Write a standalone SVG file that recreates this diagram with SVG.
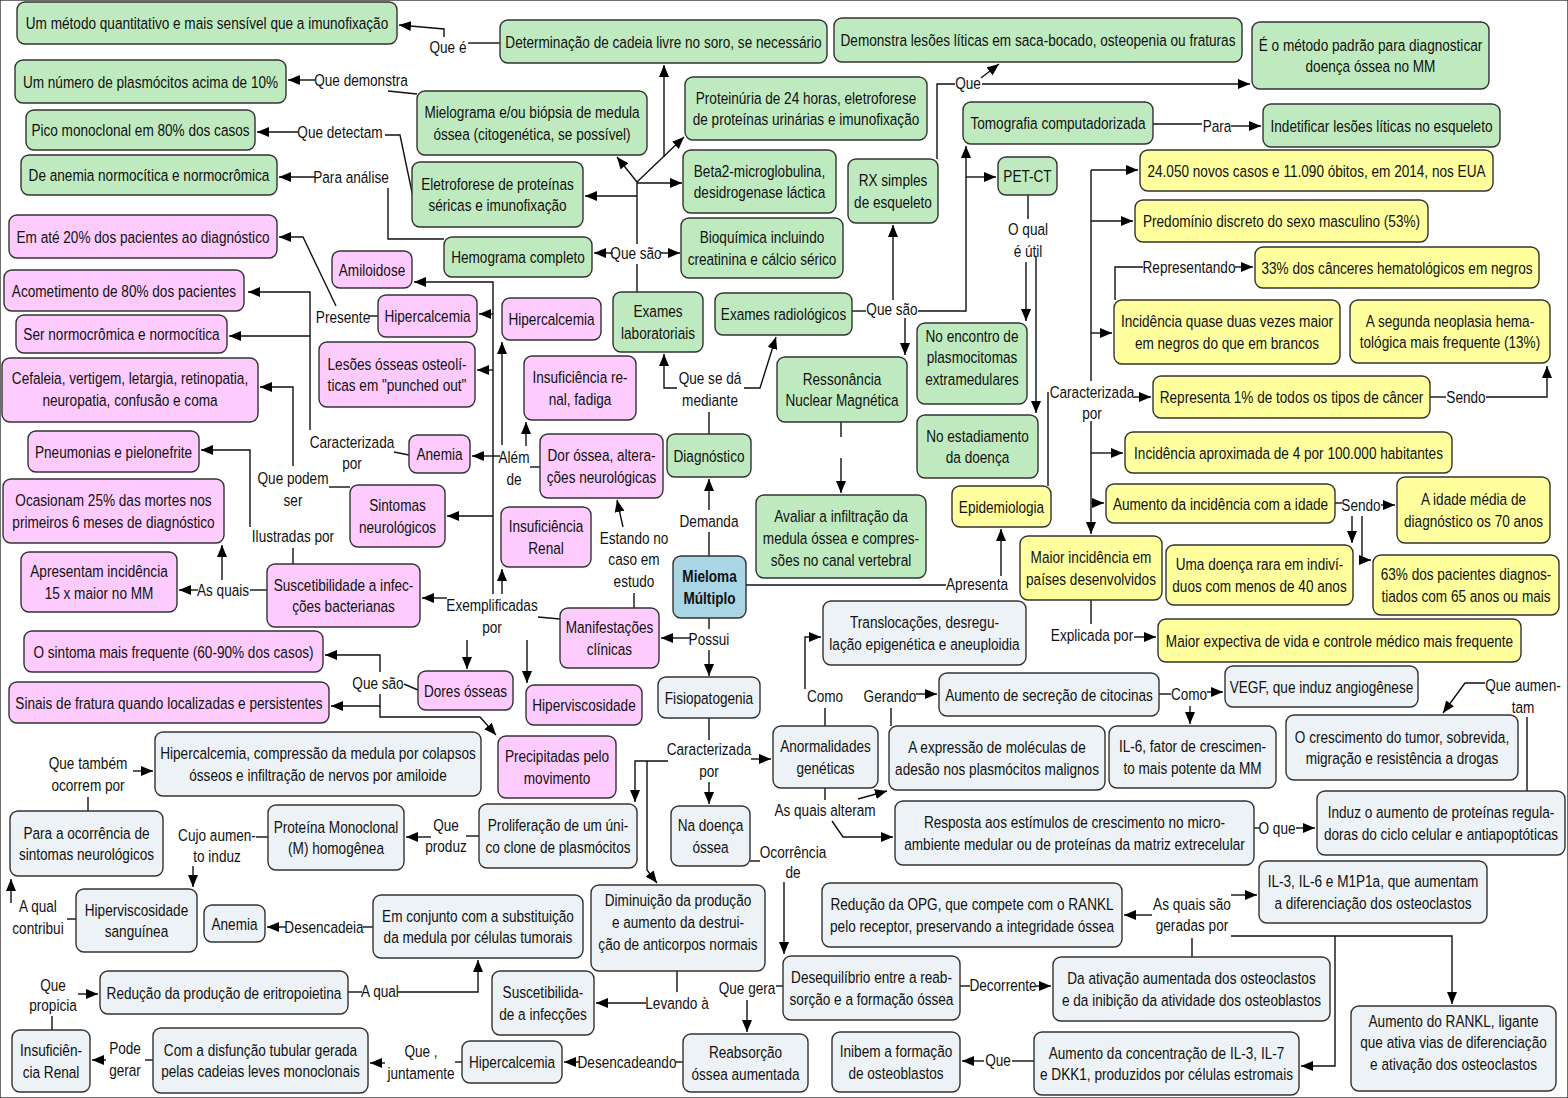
<svg xmlns="http://www.w3.org/2000/svg" width="1568" height="1098" viewBox="0 0 1568 1098">
<defs>
<style>
rect{stroke:#333;stroke-width:1.4}
.g rect{fill:#bfeabf}
.p rect{fill:#fdcbfd}
.y rect{fill:#ffff9e}
.b rect{fill:#ecf2f5}
.m rect{fill:#a9d5e5}
text{font-family:"Liberation Sans",Arial,sans-serif;font-size:17px;text-anchor:middle;fill:#111}
.bold{font-weight:bold}
#conn path{fill:none;stroke:#111;stroke-width:1.4}
#conn path.a{marker-end:url(#ah)}
</style>
<marker id="ah" markerWidth="12" markerHeight="10" refX="12" refY="5" orient="auto" markerUnits="userSpaceOnUse"><path d="M0,0 L12,5 L0,10 z" fill="#000"/></marker>
</defs>
<rect x="0" y="0" width="1568" height="1098" fill="#fff" stroke="none"/>

<g id="conn">
<path d="M500,43 H468"/><path class="a" d="M444,37 V29 L399,25"/>
<path d="M417,94 L388,91"/><path class="a" d="M315,80 H288"/>
<path d="M413,197 L400,135 H385"/><path class="a" d="M298,132 H257"/>
<path d="M444,239 H388 V188"/><path class="a" d="M315,177 H279"/>
<path d="M637,292 V264"/><path class="a" d="M613,253 H594"/><path class="a" d="M660,253 H680"/>
<path d="M637,244 V182"/><path class="a" d="M637,196 H585"/><path class="a" d="M637,183 H682"/>
<path class="a" d="M637,182 L617,157"/><path class="a" d="M637,182 L684,137"/><path class="a" d="M664,157 V65"/>
<path d="M709,434 V412"/><path class="a" d="M677,388 H664 V354"/><path class="a" d="M744,388 H760 L776,337"/>
<path d="M709,556 V532"/><path class="a" d="M709,510 V479"/>
<path d="M709,618 V629"/><path class="a" d="M709,650 V676"/><path class="a" d="M691,638 H661"/>
<path d="M746,585 H946"/><path class="a" d="M1001,576 V529"/>
<path d="M852,311 H866"/><path class="a" d="M893,300 V225"/><path class="a" d="M905,318 V355"/>
<path class="a" d="M918,311 H966 V146"/><path class="a" d="M966,177 H996"/>
<path d="M937,159 V84 H955"/><path class="a" d="M981,78 L999,64"/><path class="a" d="M982,84 H1250"/>
<path d="M1153,124 H1202"/><path class="a" d="M1231,126 H1261"/>
<path d="M1028,195 V219"/><path class="a" d="M1026,262 V321"/><path class="a" d="M1036,256 V413"/>
<path d="M841,422 V437"/><path class="a" d="M841,458 V493"/>
<path d="M1048,486 V392"/>
<path class="a" d="M1134,397 H1151"/>
<path class="a" d="M1091,421 V534"/><path class="a" d="M1091,453 H1123"/><path class="a" d="M1091,503 H1104"/>
<path d="M1091,381 V170"/><path class="a" d="M1091,170 H1138"/><path class="a" d="M1091,221 H1133"/><path class="a" d="M1091,333 H1112"/>
<path d="M1115,300 V267 H1143"/><path class="a" d="M1235,267 H1253"/>
<path d="M1430,397 H1446"/><path class="a" d="M1486,397 H1547 V366"/>
<path d="M1335,503 H1342"/><path class="a" d="M1381,505 H1395"/><path class="a" d="M1352,516 V543"/><path class="a" d="M1362,516 V560 H1371"/>
<path d="M1091,600 V624"/><path class="a" d="M1134,637 H1156"/>
<path d="M634,608 V593"/><path class="a" d="M623,527 L617,500"/>
<path d="M560,619 L538,617"/>
<path class="a" d="M447,598 H422"/>
<path class="a" d="M493,594 V282 H414"/><path class="a" d="M493,314 H479"/><path class="a" d="M493,370 H477"/><path class="a" d="M493,516 H447"/>
<path class="a" d="M502,594 V569"/><path class="a" d="M467,640 V669"/><path class="a" d="M527,640 V683"/>
<path d="M540,467 H530"/><path class="a" d="M502,445 V342"/><path class="a" d="M526,446 V422"/><path class="a" d="M500,456 H472"/>
<path d="M409,455 L394,452"/><path class="a" d="M310,430 V292 H248"/><path class="a" d="M310,336 H229"/>
<path d="M350,487 H329"/><path class="a" d="M293,466 V387 H260"/>
<path d="M293,564 V548"/><path class="a" d="M250,527 V450 H201"/>
<path d="M267,590 H250"/><path class="a" d="M198,590 H179"/><path class="a" d="M222,580 V545"/>
<path d="M378,316 H369"/><path class="a" d="M336,306 L303,237 H279"/>
<path d="M418,690 L404,684"/><path class="a" d="M380,672 V655 H325"/><path class="a" d="M380,694 V706 H331"/><path class="a" d="M380,706 V717 H480 L496,735"/>
<path d="M709,718 V740"/><path class="a" d="M751,759 H771"/><path class="a" d="M709,782 V804"/>
<path class="a" d="M668,761 H635 V802"/><path class="a" d="M647,761 V870 L657,883"/>
<path d="M825,726 V708"/><path class="a" d="M805,689 V637 H821"/>
<path d="M891,726 V708"/><path class="a" d="M916,694 H937"/>
<path d="M1159,694 H1171"/><path class="a" d="M1207,692 H1223"/><path class="a" d="M1190,706 V724"/>
<path d="M825,788 V800"/><path class="a" d="M858,799 L887,791"/><path class="a" d="M832,821 L843,837 H893"/>
<path d="M1254,828 H1259"/><path class="a" d="M1296,828 H1315"/>
<path d="M1527,791 V717"/><path class="a" d="M1485,683 H1465 L1443,713"/>
<path d="M750,861 H760"/><path class="a" d="M784,882 V954"/>
<path d="M783,986 H776"/><path class="a" d="M747,1000 V1032"/>
<path d="M960,986 H970"/><path class="a" d="M1036,986 H1051"/>
<path d="M1192,957 V938"/><path class="a" d="M1152,915 H1124"/><path class="a" d="M1231,895 H1257"/>
<path class="a" d="M1231,936 H1452 V1004"/><path class="a" d="M1335,936 V1066 H1301"/>
<path d="M1034,1061 H1012"/><path class="a" d="M984,1061 H962"/>
<path d="M683,1062 H676"/><path class="a" d="M580,1062 H564"/>
<path d="M462,1062 H455"/><path class="a" d="M385,1063 H370"/>
<path d="M153,1060 H145"/><path class="a" d="M106,1060 H92"/>
<path d="M52,1030 V1016"/><path class="a" d="M78,994 H98"/>
<path d="M348,992 H362"/><path class="a" d="M398,992 H478 V960"/>
<path d="M373,927 H363"/><path class="a" d="M286,927 H267"/>
<path d="M677,971 V992"/><path class="a" d="M646,1003 H596"/>
<path d="M479,836 H466"/><path class="a" d="M431,837 H406"/>
<path d="M268,837 H256"/><path class="a" d="M193,866 V887"/>
<path d="M76,919 H67"/><path class="a" d="M11,903 V879"/>
<path d="M88,811 V797"/><path class="a" d="M133,771 H153"/>
</g>

<g id="labels">
<text transform="translate(448,53) scale(.8,1)">Que é</text>
<text transform="translate(361,86) scale(.8,1)">Que demonstra</text>
<text transform="translate(340,138) scale(.8,1)">Que detectam</text>
<text transform="translate(351,183) scale(.8,1)">Para análise</text>
<text transform="translate(636,259) scale(.8,1)">Que são</text>
<text transform="translate(710,384) scale(.8,1)"><tspan x="0" y="0">Que se dá</tspan><tspan x="0" y="22">mediante</tspan></text>
<text transform="translate(709,527) scale(.8,1)">Demanda</text>
<text transform="translate(709,645) scale(.8,1)">Possui</text>
<text transform="translate(634,544) scale(.8,1)"><tspan x="0" y="0">Estando no</tspan><tspan x="0" y="21">caso em</tspan><tspan x="0" y="43">estudo</tspan></text>
<text transform="translate(514,463) scale(.8,1)"><tspan x="0" y="0">Além</tspan><tspan x="0" y="22">de</tspan></text>
<text transform="translate(352,448) scale(.8,1)"><tspan x="0" y="0">Caracterizada</tspan><tspan x="0" y="21">por</tspan></text>
<text transform="translate(293,484) scale(.8,1)"><tspan x="0" y="0">Que podem</tspan><tspan x="0" y="22">ser</tspan></text>
<text transform="translate(293,542) scale(.8,1)">Ilustradas por</text>
<text transform="translate(223,596) scale(.8,1)">As quais</text>
<text transform="translate(343,323) scale(.8,1)">Presente</text>
<text transform="translate(492,611) scale(.8,1)"><tspan x="0" y="0">Exemplificadas</tspan><tspan x="0" y="22">por</tspan></text>
<text transform="translate(378,689) scale(.8,1)">Que são</text>
<text transform="translate(892,315) scale(.8,1)">Que são</text>
<text transform="translate(968,89) scale(.8,1)">Que</text>
<text transform="translate(1217,132) scale(.8,1)">Para</text>
<text transform="translate(1028,235) scale(.8,1)"><tspan x="0" y="0">O qual</tspan><tspan x="0" y="22">é útil</tspan></text>
<text transform="translate(1189,273) scale(.8,1)">Representando</text>
<text transform="translate(1092,398) scale(.8,1)"><tspan x="0" y="0">Caracterizada</tspan><tspan x="0" y="21">por</tspan></text>
<text transform="translate(1466,403) scale(.8,1)">Sendo</text>
<text transform="translate(1361,511) scale(.8,1)">Sendo</text>
<text transform="translate(977,590) scale(.8,1)">Apresenta</text>
<text transform="translate(1092,641) scale(.8,1)">Explicada por</text>
<text transform="translate(825,702) scale(.8,1)">Como</text>
<text transform="translate(890,702) scale(.8,1)">Gerando</text>
<text transform="translate(1189,700) scale(.8,1)">Como</text>
<text transform="translate(1523,691) scale(.8,1)"><tspan x="0" y="0">Que aumen-</tspan><tspan x="0" y="22">tam</tspan></text>
<text transform="translate(825,816) scale(.8,1)">As quais alteram</text>
<text transform="translate(1277,834) scale(.8,1)">O que</text>
<text transform="translate(709,755) scale(.8,1)"><tspan x="0" y="0">Caracterizada</tspan><tspan x="0" y="22">por</tspan></text>
<text transform="translate(793,858) scale(.8,1)"><tspan x="0" y="0">Ocorrência</tspan><tspan x="0" y="20">de</tspan></text>
<text transform="translate(446,831) scale(.8,1)"><tspan x="0" y="0">Que</tspan><tspan x="0" y="21">produz</tspan></text>
<text transform="translate(217,841) scale(.8,1)"><tspan x="0" y="0">Cujo aumen-</tspan><tspan x="0" y="21">to induz</tspan></text>
<text transform="translate(88,769) scale(.8,1)"><tspan x="0" y="0">Que também</tspan><tspan x="0" y="22">ocorrem por</tspan></text>
<text transform="translate(38,912) scale(.8,1)"><tspan x="0" y="0">A qual</tspan><tspan x="0" y="22">contribui</tspan></text>
<text transform="translate(324,933) scale(.8,1)">Desencadeia</text>
<text transform="translate(380,997) scale(.8,1)">A qual</text>
<text transform="translate(677,1009) scale(.8,1)">Levando à</text>
<text transform="translate(747,994) scale(.8,1)">Que gera</text>
<text transform="translate(1003,991) scale(.8,1)">Decorrente</text>
<text transform="translate(1192,910) scale(.8,1)"><tspan x="0" y="0">As quais são</tspan><tspan x="0" y="21">geradas por</tspan></text>
<text transform="translate(998,1066) scale(.8,1)">Que</text>
<text transform="translate(627,1068) scale(.8,1)">Desencadeando</text>
<text transform="translate(421,1057) scale(.8,1)"><tspan x="0" y="0">Que ,</tspan><tspan x="0" y="22">juntamente</tspan></text>
<text transform="translate(125,1054) scale(.8,1)"><tspan x="0" y="0">Pode</tspan><tspan x="0" y="22">gerar</tspan></text>
<text transform="translate(53,991) scale(.8,1)"><tspan x="0" y="0">Que</tspan><tspan x="0" y="20">propicia</tspan></text>
</g>

<g id="n01" class="g"><rect x="17" y="2" width="380" height="42" rx="8"/><text transform="translate(207,29) scale(.8,1)">Um método quantitativo e mais sensível que a imunofixação</text></g>
<g id="n02" class="g"><rect x="15" y="60" width="271" height="43" rx="8"/><text transform="translate(150.5,87.5) scale(.8,1)">Um número de plasmócitos acima de 10%</text></g>
<g id="n03" class="g"><rect x="26" y="110" width="229" height="40" rx="8"/><text transform="translate(140.5,136) scale(.8,1)">Pico monoclonal em 80% dos casos</text></g>
<g id="n04" class="g"><rect x="21" y="155" width="256" height="40" rx="8"/><text transform="translate(149,181) scale(.8,1)">De anemia normocítica e normocrômica</text></g>
<g id="n05" class="p"><rect x="9" y="215" width="268" height="43" rx="8"/><text transform="translate(143,242.5) scale(.8,1)">Em até 20% dos pacientes ao diagnóstico</text></g>
<g id="n06" class="p"><rect x="4" y="270" width="240" height="41" rx="8"/><text transform="translate(124,296.5) scale(.8,1)">Acometimento de 80% dos pacientes</text></g>
<g id="n07" class="p"><rect x="16" y="315" width="211" height="38" rx="8"/><text transform="translate(121.5,340) scale(.8,1)">Ser normocrômica e normocítica</text></g>
<g id="n08" class="p"><rect x="2" y="358" width="256" height="64" rx="8"/><text transform="translate(130,384) scale(.8,1)"><tspan x="0" y="0">Cefaleia, vertigem, letargia, retinopatia,</tspan><tspan x="0" y="22">neuropatia, confusão e coma</tspan></text></g>
<g id="n09" class="p"><rect x="28" y="431" width="171" height="41" rx="8"/><text transform="translate(113.5,457.5) scale(.8,1)">Pneumonias e pielonefrite</text></g>
<g id="n10" class="p"><rect x="3" y="479" width="221" height="64" rx="8"/><text transform="translate(113.5,506) scale(.8,1)"><tspan x="0" y="0">Ocasionam 25% das mortes nos</tspan><tspan x="0" y="22">primeiros 6 meses de diagnóstico</tspan></text></g>
<g id="n11" class="p"><rect x="21" y="552" width="156" height="60" rx="8"/><text transform="translate(99,577) scale(.8,1)"><tspan x="0" y="0">Apresentam incidência</tspan><tspan x="0" y="22">15 x maior no MM</tspan></text></g>
<g id="n12" class="p"><rect x="24" y="631" width="299" height="41" rx="8"/><text transform="translate(173.5,657.5) scale(.8,1)">O sintoma mais frequente (60-90% dos casos)</text></g>
<g id="n13" class="p"><rect x="9" y="682" width="320" height="41" rx="8"/><text transform="translate(169,708.5) scale(.8,1)">Sinais de fratura quando localizadas e persistentes</text></g>
<g id="n14" class="p"><rect x="332" y="251" width="80" height="37" rx="8"/><text transform="translate(372,275.5) scale(.8,1)">Amiloidose</text></g>
<g id="n15" class="p"><rect x="378" y="295" width="99" height="42" rx="8"/><text transform="translate(427.5,322) scale(.8,1)">Hipercalcemia</text></g>
<g id="n16" class="p"><rect x="319" y="342" width="156" height="65" rx="8"/><text transform="translate(397,369.5) scale(.8,1)"><tspan x="0" y="0">Lesões ósseas osteolí-</tspan><tspan x="0" y="22">ticas em "punched out"</tspan></text></g>
<g id="n17" class="p"><rect x="502" y="298" width="99" height="42" rx="8"/><text transform="translate(551.5,325) scale(.8,1)">Hipercalcemia</text></g>
<g id="n18" class="p"><rect x="524" y="356" width="112" height="64" rx="8"/><text transform="translate(580,383) scale(.8,1)"><tspan x="0" y="0">Insuficiência re-</tspan><tspan x="0" y="22">nal, fadiga</tspan></text></g>
<g id="n19" class="p"><rect x="409" y="435" width="61" height="38" rx="8"/><text transform="translate(439.5,460) scale(.8,1)">Anemia</text></g>
<g id="n20" class="p"><rect x="540" y="434" width="123" height="64" rx="8"/><text transform="translate(601.5,461) scale(.8,1)"><tspan x="0" y="0">Dor óssea, altera-</tspan><tspan x="0" y="22">ções neurológicas</tspan></text></g>
<g id="n21" class="p"><rect x="350" y="485" width="95" height="62" rx="8"/><text transform="translate(397.5,511) scale(.8,1)"><tspan x="0" y="0">Sintomas</tspan><tspan x="0" y="22">neurológicos</tspan></text></g>
<g id="n22" class="p"><rect x="501" y="507" width="90" height="60" rx="8"/><text transform="translate(546,532) scale(.8,1)"><tspan x="0" y="0">Insuficiência</tspan><tspan x="0" y="22">Renal</tspan></text></g>
<g id="n23" class="p"><rect x="267" y="564" width="153" height="63" rx="8"/><text transform="translate(343.5,590.5) scale(.8,1)"><tspan x="0" y="0">Suscetibilidade a infec-</tspan><tspan x="0" y="22">ções bacterianas</tspan></text></g>
<g id="n24" class="p"><rect x="560" y="608" width="99" height="60" rx="8"/><text transform="translate(609.5,633) scale(.8,1)"><tspan x="0" y="0">Manifestações</tspan><tspan x="0" y="22">clínicas</tspan></text></g>
<g id="n25" class="p"><rect x="418" y="671" width="95" height="39" rx="8"/><text transform="translate(465.5,696.5) scale(.8,1)">Dores ósseas</text></g>
<g id="n26" class="p"><rect x="526" y="685" width="116" height="40" rx="8"/><text transform="translate(584,711) scale(.8,1)">Hiperviscosidade</text></g>
<g id="n27" class="p"><rect x="498" y="736" width="118" height="62" rx="8"/><text transform="translate(557,762) scale(.8,1)"><tspan x="0" y="0">Precipitadas pelo</tspan><tspan x="0" y="22">movimento</tspan></text></g>
<g id="n28" class="g"><rect x="500" y="20" width="327" height="43" rx="8"/><text transform="translate(663.5,47.5) scale(.8,1)">Determinação de cadeia livre no soro, se necessário</text></g>
<g id="n29" class="g"><rect x="417" y="91" width="230" height="64" rx="8"/><text transform="translate(532,118) scale(.8,1)"><tspan x="0" y="0">Mielograma e/ou biópsia de medula</tspan><tspan x="0" y="22">óssea (citogenética, se possível)</tspan></text></g>
<g id="n30" class="g"><rect x="412" y="162" width="171" height="65" rx="8"/><text transform="translate(497.5,189.5) scale(.8,1)"><tspan x="0" y="0">Eletroforese de proteínas</tspan><tspan x="0" y="22">séricas e imunofixação</tspan></text></g>
<g id="n31" class="g"><rect x="444" y="237" width="148" height="40" rx="8"/><text transform="translate(518,263) scale(.8,1)">Hemograma completo</text></g>
<g id="n32" class="g"><rect x="685" y="77" width="242" height="63" rx="8"/><text transform="translate(806,103.5) scale(.8,1)"><tspan x="0" y="0">Proteinúria de 24 horas, eletroforese</tspan><tspan x="0" y="22">de proteínas urinárias e imunofixação</tspan></text></g>
<g id="n33" class="g"><rect x="683" y="150" width="153" height="63" rx="8"/><text transform="translate(759.5,176.5) scale(.8,1)"><tspan x="0" y="0">Beta2-microglobulina,</tspan><tspan x="0" y="22">desidrogenase láctica</tspan></text></g>
<g id="n34" class="g"><rect x="681" y="218" width="162" height="60" rx="8"/><text transform="translate(762,243) scale(.8,1)"><tspan x="0" y="0">Bioquímica incluindo</tspan><tspan x="0" y="22">creatinina e cálcio sérico</tspan></text></g>
<g id="n35" class="g"><rect x="613" y="292" width="90" height="60" rx="8"/><text transform="translate(658,317) scale(.8,1)"><tspan x="0" y="0">Exames</tspan><tspan x="0" y="22">laboratoriais</tspan></text></g>
<g id="n36" class="g"><rect x="715" y="293" width="137" height="42" rx="8"/><text transform="translate(783.5,320) scale(.8,1)">Exames radiológicos</text></g>
<g id="n37" class="g"><rect x="667" y="434" width="84" height="43" rx="8"/><text transform="translate(709,461.5) scale(.8,1)">Diagnóstico</text></g>
<g id="n38" class="g"><rect x="777" y="357" width="130" height="65" rx="8"/><text transform="translate(842,384.5) scale(.8,1)"><tspan x="0" y="0">Ressonância</tspan><tspan x="0" y="22">Nuclear Magnética</tspan></text></g>
<g id="n39" class="g"><rect x="756" y="495" width="170" height="83" rx="8"/><text transform="translate(841,522) scale(.8,1)"><tspan x="0" y="0">Avaliar a infiltração da</tspan><tspan x="0" y="22">medula óssea e compres-</tspan><tspan x="0" y="44">sões no canal vertebral</tspan></text></g>
<g id="n40" class="g"><rect x="848" y="159" width="90" height="64" rx="8"/><text transform="translate(893,186) scale(.8,1)"><tspan x="0" y="0">RX simples</tspan><tspan x="0" y="22">de esqueleto</tspan></text></g>
<g id="n41" class="g"><rect x="834" y="18" width="408" height="44" rx="8"/><text transform="translate(1038,46) scale(.8,1)">Demonstra lesões líticas em saca-bocado, osteopenia ou fraturas</text></g>
<g id="n42" class="g"><rect x="1252" y="22" width="237" height="67" rx="8"/><text transform="translate(1370.5,50.5) scale(.8,1)"><tspan x="0" y="0">É o método padrão para diagnosticar</tspan><tspan x="0" y="22">doença óssea no MM</tspan></text></g>
<g id="n43" class="g"><rect x="963" y="102" width="190" height="42" rx="8"/><text transform="translate(1058,129) scale(.8,1)">Tomografia computadorizada</text></g>
<g id="n44" class="g"><rect x="1263" y="104" width="237" height="43" rx="8"/><text transform="translate(1381.5,131.5) scale(.8,1)">Indetificar lesões líticas no esqueleto</text></g>
<g id="n45" class="g"><rect x="998" y="157" width="59" height="38" rx="8"/><text transform="translate(1027.5,182) scale(.8,1)">PET-CT</text></g>
<g id="n46" class="g"><rect x="917" y="323" width="110" height="81" rx="8"/><text transform="translate(972,341.5) scale(.8,1)"><tspan x="0" y="0">No encontro de</tspan><tspan x="0" y="22">plasmocitomas</tspan><tspan x="0" y="44">extramedulares</tspan></text></g>
<g id="n47" class="g"><rect x="917" y="415" width="121" height="63" rx="8"/><text transform="translate(977.5,441.5) scale(.8,1)"><tspan x="0" y="0">No estadiamento</tspan><tspan x="0" y="22">da doença</tspan></text></g>
<g id="n48" class="y"><rect x="952" y="486" width="99" height="41" rx="8"/><text transform="translate(1001.5,512.5) scale(.8,1)">Epidemiologia</text></g>
<g id="n49" class="y"><rect x="1020" y="536" width="142" height="64" rx="8"/><text transform="translate(1091,563) scale(.8,1)"><tspan x="0" y="0">Maior incidência em</tspan><tspan x="0" y="22">países desenvolvidos</tspan></text></g>
<g id="n50" class="y"><rect x="1140" y="150" width="353" height="41" rx="8"/><text transform="translate(1316.5,176.5) scale(.8,1)">24.050 novos casos e 11.090 óbitos, em 2014, nos EUA</text></g>
<g id="n51" class="y"><rect x="1135" y="200" width="293" height="42" rx="8"/><text transform="translate(1281.5,227) scale(.8,1)">Predomínio discreto do sexo masculino (53%)</text></g>
<g id="n52" class="y"><rect x="1255" y="247" width="284" height="41" rx="8"/><text transform="translate(1397,273.5) scale(.8,1)">33% dos cânceres hematológicos em negros</text></g>
<g id="n53" class="y"><rect x="1114" y="300" width="226" height="64" rx="8"/><text transform="translate(1227,327) scale(.8,1)"><tspan x="0" y="0">Incidência quase duas vezes maior</tspan><tspan x="0" y="22">em negros do que em brancos</tspan></text></g>
<g id="n54" class="y"><rect x="1350" y="300" width="200" height="63" rx="8"/><text transform="translate(1450,326.5) scale(.8,1)"><tspan x="0" y="0">A segunda neoplasia hema-</tspan><tspan x="0" y="22">tológica mais frequente (13%)</tspan></text></g>
<g id="n55" class="y"><rect x="1153" y="376" width="277" height="42" rx="8"/><text transform="translate(1291.5,403) scale(.8,1)">Representa 1% de todos os tipos de câncer</text></g>
<g id="n56" class="y"><rect x="1125" y="432" width="327" height="41" rx="8"/><text transform="translate(1288.5,458.5) scale(.8,1)">Incidência aproximada de 4 por 100.000 habitantes</text></g>
<g id="n57" class="y"><rect x="1106" y="484" width="229" height="39" rx="8"/><text transform="translate(1220.5,509.5) scale(.8,1)">Aumento da incidência com a idade</text></g>
<g id="n58" class="y"><rect x="1397" y="477" width="153" height="66" rx="8"/><text transform="translate(1473.5,505) scale(.8,1)"><tspan x="0" y="0">A idade média de</tspan><tspan x="0" y="22">diagnóstico os 70 anos</tspan></text></g>
<g id="n59" class="y"><rect x="1166" y="545" width="187" height="60" rx="8"/><text transform="translate(1259.5,570) scale(.8,1)"><tspan x="0" y="0">Uma doença rara em indiví-</tspan><tspan x="0" y="22">duos com menos de 40 anos</tspan></text></g>
<g id="n60" class="y"><rect x="1373" y="555" width="186" height="60" rx="8"/><text transform="translate(1466,580) scale(.8,1)"><tspan x="0" y="0">63% dos pacientes diagnos-</tspan><tspan x="0" y="22">tiados com 65 anos ou mais</tspan></text></g>
<g id="n61" class="y"><rect x="1158" y="619" width="363" height="43" rx="8"/><text transform="translate(1339.5,646.5) scale(.8,1)">Maior expectiva de vida e controle médico mais frequente</text></g>
<g id="n62" class="m"><rect x="673" y="556" width="73" height="62" rx="8"/><text class="bold" transform="translate(709.5,582) scale(.8,1)"><tspan x="0" y="0">Mieloma</tspan><tspan x="0" y="22">Múltiplo</tspan></text></g>
<g id="n63" class="b"><rect x="658" y="677" width="102" height="41" rx="8"/><text transform="translate(709,703.5) scale(.8,1)">Fisiopatogenia</text></g>
<g id="n64" class="b"><rect x="823" y="601" width="203" height="64" rx="8"/><text transform="translate(924.5,628) scale(.8,1)"><tspan x="0" y="0">Translocações, desregu-</tspan><tspan x="0" y="22">lação epigenética e aneuploidia</tspan></text></g>
<g id="n65" class="b"><rect x="939" y="673" width="220" height="43" rx="8"/><text transform="translate(1049,700.5) scale(.8,1)">Aumento de secreção de citocinas</text></g>
<g id="n66" class="b"><rect x="1225" y="666" width="193" height="41" rx="8"/><text transform="translate(1321.5,692.5) scale(.8,1)">VEGF, que induz angiogênese</text></g>
<g id="n67" class="b"><rect x="773" y="726" width="105" height="62" rx="8"/><text transform="translate(825.5,752) scale(.8,1)"><tspan x="0" y="0">Anormalidades</tspan><tspan x="0" y="22">genéticas</tspan></text></g>
<g id="n68" class="b"><rect x="889" y="726" width="216" height="64" rx="8"/><text transform="translate(997,753) scale(.8,1)"><tspan x="0" y="0">A expressão de moléculas de</tspan><tspan x="0" y="22">adesão nos plasmócitos malignos</tspan></text></g>
<g id="n69" class="b"><rect x="1109" y="726" width="167" height="62" rx="8"/><text transform="translate(1192.5,752) scale(.8,1)"><tspan x="0" y="0">IL-6, fator de crescimen-</tspan><tspan x="0" y="22">to mais potente da MM</tspan></text></g>
<g id="n70" class="b"><rect x="1286" y="715" width="232" height="65" rx="8"/><text transform="translate(1402,742.5) scale(.8,1)"><tspan x="0" y="0">O crescimento do tumor, sobrevida,</tspan><tspan x="0" y="22">migração e resistência a drogas</tspan></text></g>
<g id="n71" class="b"><rect x="895" y="801" width="359" height="64" rx="8"/><text transform="translate(1074.5,828) scale(.8,1)"><tspan x="0" y="0">Resposta aos estímulos de crescimento no micro-</tspan><tspan x="0" y="22">ambiente medular ou de proteínas da matriz extrecelular</tspan></text></g>
<g id="n72" class="b"><rect x="1317" y="791" width="248" height="64" rx="8"/><text transform="translate(1441,818) scale(.8,1)"><tspan x="0" y="0">Induz o aumento de proteínas regula-</tspan><tspan x="0" y="22">doras do ciclo celular e antiapoptóticas</tspan></text></g>
<g id="n73" class="b"><rect x="822" y="883" width="300" height="64" rx="8"/><text transform="translate(972,910) scale(.8,1)"><tspan x="0" y="0">Redução da OPG, que compete com o RANKL</tspan><tspan x="0" y="22">pelo receptor, preservando a integridade óssea</tspan></text></g>
<g id="n74" class="b"><rect x="1259" y="861" width="228" height="62" rx="8"/><text transform="translate(1373,887) scale(.8,1)"><tspan x="0" y="0">IL-3, IL-6 e M1P1a, que aumentam</tspan><tspan x="0" y="22">a diferenciação dos osteoclastos</tspan></text></g>
<g id="n75" class="b"><rect x="671" y="806" width="79" height="60" rx="8"/><text transform="translate(710.5,831) scale(.8,1)"><tspan x="0" y="0">Na doença</tspan><tspan x="0" y="22">óssea</tspan></text></g>
<g id="n76" class="b"><rect x="479" y="804" width="158" height="64" rx="8"/><text transform="translate(558,831) scale(.8,1)"><tspan x="0" y="0">Proliferação de um úni-</tspan><tspan x="0" y="22">co clone de plasmócitos</tspan></text></g>
<g id="n77" class="b"><rect x="268" y="805" width="136" height="65" rx="8"/><text transform="translate(336,832.5) scale(.8,1)"><tspan x="0" y="0">Proteína Monoclonal</tspan><tspan x="0" y="22">(M) homogênea</tspan></text></g>
<g id="n78" class="b"><rect x="155" y="732" width="326" height="64" rx="8"/><text transform="translate(318,759) scale(.8,1)"><tspan x="0" y="0">Hipercalcemia, compressão da medula por colapsos</tspan><tspan x="0" y="22">ósseos e infiltração de nervos por amiloide</tspan></text></g>
<g id="n79" class="b"><rect x="10" y="811" width="153" height="65" rx="8"/><text transform="translate(86.5,838.5) scale(.8,1)"><tspan x="0" y="0">Para a ocorrência de</tspan><tspan x="0" y="22">sintomas neurológicos</tspan></text></g>
<g id="n80" class="b"><rect x="76" y="889" width="121" height="63" rx="8"/><text transform="translate(136.5,915.5) scale(.8,1)"><tspan x="0" y="0">Hiperviscosidade</tspan><tspan x="0" y="22">sanguínea</tspan></text></g>
<g id="n81" class="b"><rect x="204" y="905" width="61" height="37" rx="8"/><text transform="translate(234.5,929.5) scale(.8,1)">Anemia</text></g>
<g id="n82" class="b"><rect x="373" y="895" width="210" height="63" rx="8"/><text transform="translate(478,921.5) scale(.8,1)"><tspan x="0" y="0">Em conjunto com a substituição</tspan><tspan x="0" y="22">da medula por células tumorais</tspan></text></g>
<g id="n83" class="b"><rect x="591" y="885" width="174" height="86" rx="8"/><text transform="translate(678,906) scale(.8,1)"><tspan x="0" y="0">Diminuição da produção</tspan><tspan x="0" y="22">e aumento da destrui-</tspan><tspan x="0" y="44">ção de anticorpos normais</tspan></text></g>
<g id="n84" class="b"><rect x="100" y="971" width="248" height="43" rx="8"/><text transform="translate(224,998.5) scale(.8,1)">Redução da produção de eritropoietina</text></g>
<g id="n85" class="b"><rect x="492" y="971" width="102" height="64" rx="8"/><text transform="translate(543,998) scale(.8,1)"><tspan x="0" y="0">Suscetibilida-</tspan><tspan x="0" y="22">de a infecções</tspan></text></g>
<g id="n86" class="b"><rect x="12" y="1030" width="78" height="62" rx="8"/><text transform="translate(51,1056) scale(.8,1)"><tspan x="0" y="0">Insuficiên-</tspan><tspan x="0" y="22">cia Renal</tspan></text></g>
<g id="n87" class="b"><rect x="153" y="1028" width="215" height="65" rx="8"/><text transform="translate(260.5,1055.5) scale(.8,1)"><tspan x="0" y="0">Com a disfunção tubular gerada</tspan><tspan x="0" y="22">pelas cadeias leves monoclonais</tspan></text></g>
<g id="n88" class="b"><rect x="462" y="1041" width="100" height="42" rx="8"/><text transform="translate(512,1068) scale(.8,1)">Hipercalcemia</text></g>
<g id="n89" class="b"><rect x="683" y="1034" width="125" height="58" rx="8"/><text transform="translate(745.5,1058) scale(.8,1)"><tspan x="0" y="0">Reabsorção</tspan><tspan x="0" y="22">óssea aumentada</tspan></text></g>
<g id="n90" class="b"><rect x="783" y="956" width="177" height="64" rx="8"/><text transform="translate(871.5,983) scale(.8,1)"><tspan x="0" y="0">Desequilíbrio entre a reab-</tspan><tspan x="0" y="22">sorção e a formação óssea</tspan></text></g>
<g id="n91" class="b"><rect x="1053" y="957" width="277" height="64" rx="8"/><text transform="translate(1191.5,984) scale(.8,1)"><tspan x="0" y="0">Da ativação aumentada dos osteoclastos</tspan><tspan x="0" y="22">e da inibição da atividade dos osteoblastos</tspan></text></g>
<g id="n92" class="b"><rect x="832" y="1032" width="128" height="60" rx="8"/><text transform="translate(896,1057) scale(.8,1)"><tspan x="0" y="0">Inibem a formação</tspan><tspan x="0" y="22">de osteoblastos</tspan></text></g>
<g id="n93" class="b"><rect x="1034" y="1032" width="265" height="63" rx="8"/><text transform="translate(1166.5,1058.5) scale(.8,1)"><tspan x="0" y="0">Aumento da concentração de IL-3, IL-7</tspan><tspan x="0" y="22">e DKK1, produzidos por células estromais</tspan></text></g>
<g id="n94" class="b"><rect x="1351" y="1006" width="205" height="85" rx="8"/><text transform="translate(1453.5,1026.5) scale(.8,1)"><tspan x="0" y="0">Aumento do RANKL, ligante</tspan><tspan x="0" y="22">que ativa vias de diferenciação</tspan><tspan x="0" y="44">e ativação dos osteoclastos</tspan></text></g>
</svg>
